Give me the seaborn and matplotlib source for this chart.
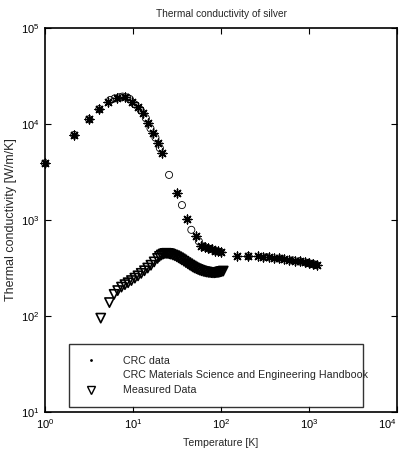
import matplotlib
matplotlib.use("Agg")
import matplotlib.pyplot as plt
from matplotlib.lines import Line2D
import pandas as pd
import seaborn as sns

# CRC data (asterisks)
crc_T = [1, 2.15, 3.16, 4.14, 5.2, 6.6, 8.1, 9.8, 11.4, 13, 14.8, 16.9, 19.2, 21.3,
         31.6, 41, 52, 60, 66, 72, 78, 85, 92, 100, 152, 203, 260, 300, 350, 400,
         460, 520, 600, 700, 800, 900, 1000, 1100, 1230]
crc_k = [3900, 7700, 11200, 14300, 17000, 18700, 19100, 17000, 15100, 13000, 10200, 8050, 6330, 5000,
         1910, 1020, 680, 540, 520, 505, 495, 480, 470, 462, 425, 425, 420, 415, 410, 405,
         400, 390, 385, 378, 370, 362, 355, 348, 340]

# CRC Materials Science and Engineering Handbook (circles)
hb_T = [1, 2.15, 3.16, 4.14, 5.5, 6.2, 7.0, 7.6, 8.6, 9.2, 10.5, 12.2, 14.0, 15.8, 18.0, 20.2,
        25.7, 36, 46, 56, 64, 75, 88, 98, 205, 330, 480, 650, 780, 950, 1050, 1150, 1200]
hb_k = [3900, 7700, 11200, 14300, 17800, 18500, 19000, 19300, 18900, 18200, 16000, 14000, 11500, 9000,
        7200, 5600, 2950, 1430, 790, 600, 530, 500, 475, 465, 420, 410, 395, 380, 372, 358, 350, 345, 340]

# Measured data (triangles)
meas_T = [4.3, 5.4, 6.1, 6.7, 7.4, 8.1, 8.8, 9.6, 10.5, 11.4, 12.4, 13.5, 14.7, 16.0, 17.4,
          19.0, 20.0, 21.0, 22.0, 23.0, 24.0, 25.0, 26.0, 27.0, 28.5, 30.0, 31.5, 33.0, 34.5,
          36.0, 38.0, 40.0, 42.0, 44.0, 46.0, 48.0, 50.0, 52.5, 55.0, 57.5, 60.0, 63.0, 66.0,
          69.0, 72.0, 75.0, 78.0, 81.0, 84.0, 87.0, 90.0, 93.0, 96.0, 99.0, 102.0, 106.0]
meas_k = [95, 138, 168, 184, 200, 212, 222, 234, 248, 262, 278, 296, 316, 338, 366,
          398, 418, 432, 442, 448, 450, 448, 445, 440, 432, 424, 414, 404, 394,
          384, 372, 360, 350, 340, 332, 324, 317, 311, 305, 300, 296, 292, 289,
          287, 285, 284, 283, 282, 282, 283, 284, 285, 287, 289, 291, 294]

x_ticks = [1, 10, 100, 1000, 10000]
y_ticks = [10, 100, 1000, 10000, 100000]
legend_labels = ["CRC data", "CRC Materials Science and Engineering Handbook", "Measured Data"]

sns.set_style("ticks")
plt.rcParams["font.family"] = ["Liberation Sans", "DejaVu Sans"]
plt.rcParams["mathtext.default"] = "regular"

fig = plt.figure(figsize=(4.03, 4.63), dpi=100)
ax = fig.add_axes([45 / 403, 1 - 412 / 463, 352 / 403, 384 / 463])

crc = pd.DataFrame({"T": crc_T, "k": crc_k})
hb = pd.DataFrame({"T": hb_T, "k": hb_k})
meas = pd.DataFrame({"T": meas_T, "k": meas_k})

sns.scatterplot(data=hb, x="T", y="k", ax=ax, marker="o", s=26,
                facecolors="none", edgecolor="black", linewidth=0.6, zorder=3, clip_on=False)
sns.scatterplot(data=crc, x="T", y="k", ax=ax, marker=(8, 2, 0), s=40,
                color="black", linewidth=1.0, zorder=4, clip_on=False)
sns.scatterplot(data=meas, x="T", y="k", ax=ax, marker="v", s=44,
                facecolors="none", edgecolor="black", linewidth=1.2, zorder=5)

ax.set_xscale("log")
ax.set_yscale("log")
ax.set_xticks(x_ticks)
ax.set_yticks(y_ticks)
ax.set_xlim(1, 1e4)
ax.set_ylim(10, 1e5)
ax.minorticks_off()
ax.tick_params(which="both", direction="in", top=True, right=True, length=4,
               width=0.8, labelsize=8, colors="black", pad=4)
for sp in ax.spines.values():
    sp.set_linewidth(1.2)
    sp.set_color("black")

# keep the last x tick label inside the figure
fig.canvas.draw()
ax.get_xticklabels()[-1].set_horizontalalignment("right")

ax.set_title("Thermal conductivity of silver", fontsize=7.3, pad=8)
ax.set_xlabel("Temperature [K]", fontsize=7.6, labelpad=5)
ax.set_ylabel("Thermal conductivity [W/m/K]", fontsize=9, labelpad=3)

handles = [
    Line2D([], [], linestyle="none", marker=".", markersize=2, color="black"),
    Line2D([], [], linestyle="none", marker="none", color="black"),
    Line2D([], [], linestyle="none", marker="v", markersize=6, markerfacecolor="none",
           markeredgecolor="black", markeredgewidth=1.0),
]
leg = ax.legend(handles, legend_labels, loc="lower left", bbox_to_anchor=(0.068, 0.013, 0.835, 0.17),
                mode="expand", fontsize=7.7, frameon=True, fancybox=False, borderpad=1.1,
                labelspacing=0.45, handletextpad=2.0, handlelength=2.0, borderaxespad=0)
leg.get_frame().set_edgecolor("black")
leg.get_frame().set_linewidth(1.0)

fig.savefig("out.png", dpi=100)
